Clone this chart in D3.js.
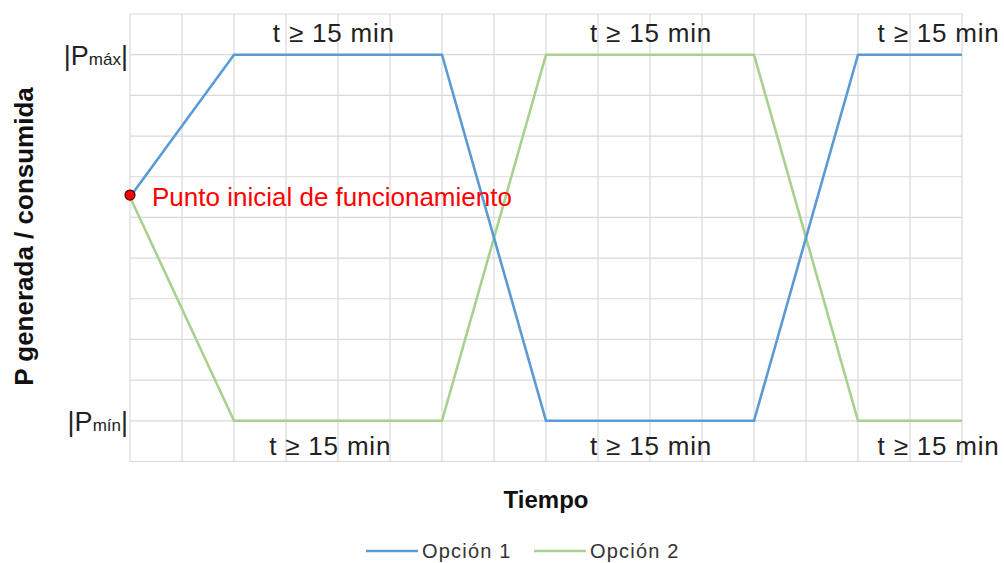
<!DOCTYPE html>
<html>
<head>
<meta charset="utf-8">
<script src="https://cdn.jsdelivr.net/npm/d3@7"></script>
<style>
  body { margin: 0; background: #fff; }
  svg { font-family: 'Liberation Sans', Arial, sans-serif; }
</style>
</head>
<body>
<svg id="chart"></svg>
<script>
// datos
const timeSteps = d3.range(0, 17)          // columnas de la grilla
const powerLevels = d3.range(0, 12)        // filas de la grilla
const option1 = [[0, 6.5], [2, 10], [6, 10], [8, 1], [12, 1], [14, 10], [16, 10]]
const option2 = [[0, 6.5], [2, 1], [6, 1], [8, 10], [12, 10], [14, 1], [16, 1]]
const seriesNames = ['Opción 1', 'Opción 2']
const tickLabels = [{ v: 10, sub: 'máx' }, { v: 1, sub: 'mín' }]
const topNotes = [3.92, 10.02, 15.55]
const bottomNotes = [3.85, 10.02, 15.55]
const noteText = 't ≥ 15 min'
const startPoint = [0, 6.5]
const startText = 'Punto inicial de funcionamiento'

const width = 1004
const height = 563
const colors = ['#5B9BD5', '#A9D18E']

const svg = d3.select('#chart').attr('width', width).attr('height', height)

const x = d3.scaleLinear().domain([0, 16]).range([130, 962])
const y = d3.scaleLinear().domain([0, 11]).range([461.5, 14])

// grilla
svg.append('g')
  .selectAll('line')
  .data(timeSteps)
  .join('line')
  .attr('x1', d => x(d)).attr('x2', d => x(d))
  .attr('y1', y(0)).attr('y2', y(11))
  .attr('stroke', '#d9d9d9').attr('stroke-width', 1.2)

svg.append('g')
  .selectAll('line')
  .data(powerLevels)
  .join('line')
  .attr('x1', x(0)).attr('x2', x(16))
  .attr('y1', d => y(d)).attr('y2', d => y(d))
  .attr('stroke', '#d9d9d9').attr('stroke-width', 1.2)

// etiquetas eje Y
const ticks = svg.append('g')
  .selectAll('text')
  .data(tickLabels)
  .join('text')
  .attr('x', x(0) - 2)
  .attr('y', d => y(d.v) + 10)
  .attr('text-anchor', 'end')
  .attr('fill', '#222')
ticks.append('tspan').attr('font-size', 27).text('|P')
ticks.append('tspan').attr('font-size', 17).text(d => d.sub)
ticks.append('tspan').attr('font-size', 27).text('|')

// series
const line = d3.line().x(d => x(d[0])).y(d => y(d[1]))
svg.append('g')
  .selectAll('path')
  .data([option2, option1])
  .join('path')
  .attr('d', line)
  .attr('fill', 'none')
  .attr('stroke', (d, i) => colors[1 - i])
  .attr('stroke-width', 2.6)

// notas t >= 15 min
svg.append('g')
  .selectAll('text')
  .data(topNotes)
  .join('text')
  .attr('x', d => x(d))
  .attr('y', 42)
  .attr('text-anchor', 'middle')
  .attr('font-size', 26)
  .attr('letter-spacing', 0.8)
  .attr('fill', '#222')
  .text(noteText)

svg.append('g')
  .selectAll('text')
  .data(bottomNotes)
  .join('text')
  .attr('x', d => x(d))
  .attr('y', 455)
  .attr('text-anchor', 'middle')
  .attr('font-size', 26)
  .attr('letter-spacing', 0.8)
  .attr('fill', '#222')
  .text(noteText)

// punto inicial
svg.append('circle')
  .attr('cx', x(startPoint[0]))
  .attr('cy', y(startPoint[1]) - 2)
  .attr('r', 5)
  .attr('fill', '#ff0000')
  .attr('stroke', '#400')
  .attr('stroke-width', 1.2)

svg.append('text')
  .attr('x', x(startPoint[0]) + 22)
  .attr('y', y(startPoint[1]) + 9)
  .attr('font-size', 26)
  .attr('fill', '#ff0000')
  .text(startText)

// títulos
svg.append('text')
  .attr('x', (x(0) + x(16)) / 2)
  .attr('y', 508)
  .attr('text-anchor', 'middle')
  .attr('font-size', 24)
  .attr('font-weight', 'bold')
  .attr('fill', '#111')
  .text('Tiempo')

svg.append('text')
  .attr('transform', `translate(33,236.5) rotate(-90)`)
  .attr('text-anchor', 'middle')
  .attr('font-size', 26)
  .attr('font-weight', 'bold')
  .attr('fill', '#111')
  .text('P generada / consumida')

// leyenda
const legend = svg.append('g')
  .selectAll('g')
  .data(seriesNames)
  .join('g')
  .attr('transform', (d, i) => `translate(${366 + i * 168},551)`)
legend.append('line')
  .attr('x1', 0).attr('x2', 52)
  .attr('stroke', (d, i) => colors[i])
  .attr('stroke-width', 2.6)
legend.append('text')
  .attr('x', 56)
  .attr('y', 7)
  .attr('font-size', 20)
  .attr('letter-spacing', 1.2)
  .attr('fill', '#333')
  .text(d => d)
</script>
</body>
</html>
